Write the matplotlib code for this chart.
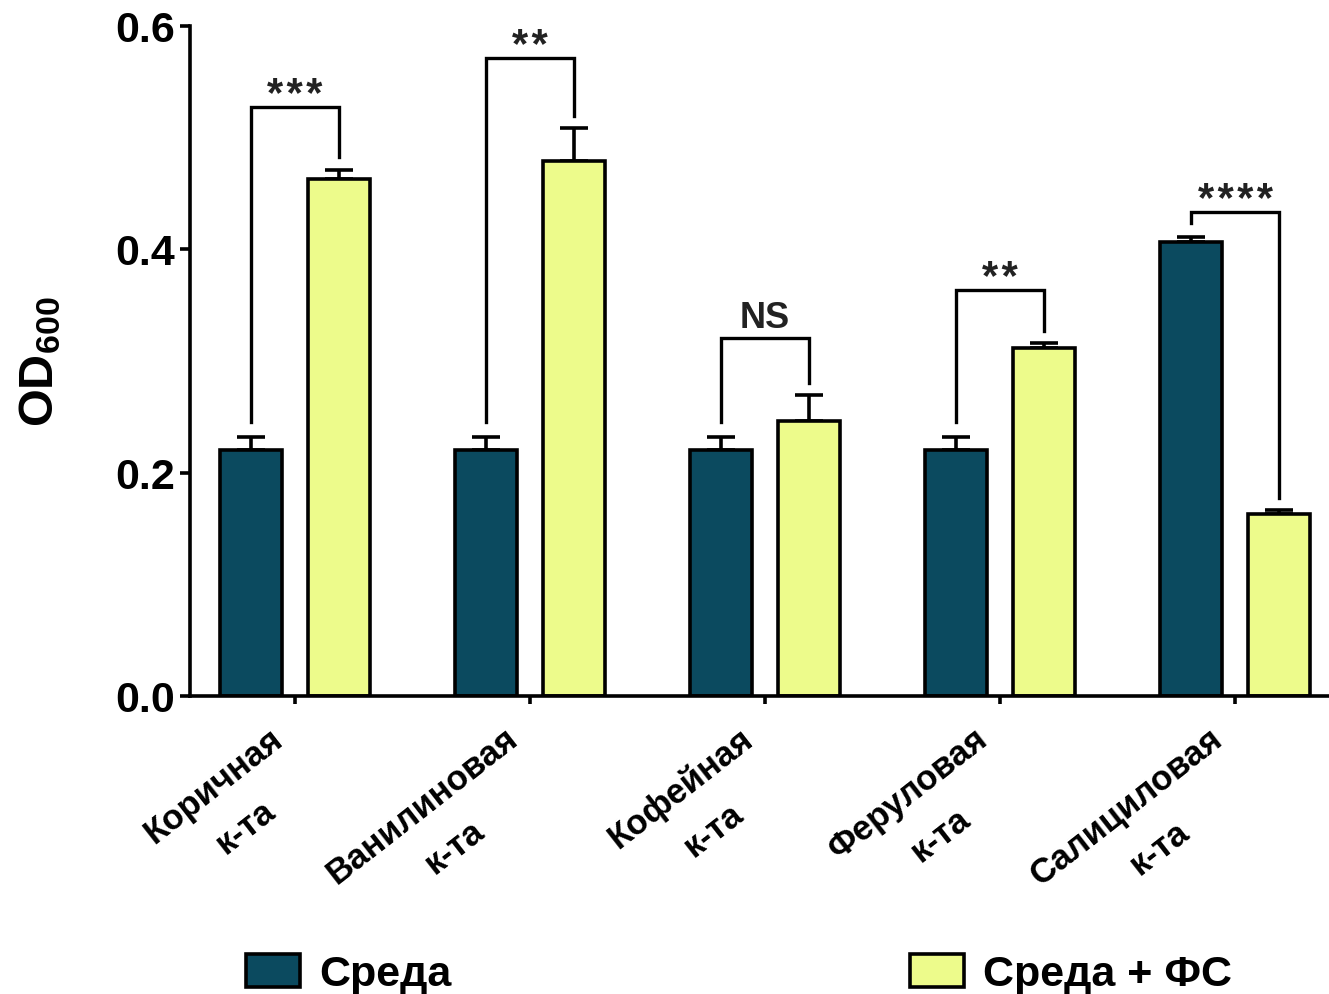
import matplotlib
matplotlib.use("Agg")
import matplotlib.pyplot as plt
from matplotlib.patches import Patch
import numpy as np

# --- data -------------------------------------------------------------
categories = ["Коричная\nк-та", "Ванилиновая\nк-та", "Кофейная\nк-та",
              "Феруловая\nк-та", "Салициловая\nк-та"]
medium = [0.220, 0.220, 0.220, 0.220, 0.4065]
medium_err = [0.012, 0.012, 0.012, 0.012, 0.004]
medium_fs = [0.463, 0.479, 0.246, 0.311, 0.163]
medium_fs_err = [0.008, 0.029, 0.023, 0.005, 0.003]
significance = ["***", "**", "NS", "**", "****"]
bracket_level = [0.527, 0.571, 0.320, 0.363, 0.433]
series_names = ["Среда", "Среда + ФС"]
y_ticks = [0.0, 0.2, 0.4, 0.6]

# --- style ------------------------------------------------------------
plt.rcParams["font.family"] = ["Liberation Sans", "DejaVu Sans"]
plt.rcParams["font.weight"] = "bold"
plt.rcParams["mathtext.fontset"] = "custom"
plt.rcParams["mathtext.rm"] = "Liberation Sans:bold"
plt.rcParams["mathtext.bf"] = "Liberation Sans:bold"

DARK = "#0b4a5f"
LIGHT = "#edfb8b"
LW = 2.6

fig = plt.figure(figsize=(13.29, 9.95), dpi=100)
ax = fig.add_axes([190 / 1329, 1 - 697 / 995, 1139 / 1329, (697 - 26.5) / 995])

x = np.arange(len(categories))
off = 0.187
width = 0.264

ax.bar(x - off, medium, width, color=DARK, edgecolor="black", linewidth=LW, zorder=2)
ax.bar(x + off, medium_fs, width, color=LIGHT, edgecolor="black", linewidth=LW, zorder=2)
ax.errorbar(x - off, medium, yerr=[np.zeros(len(x)), medium_err], fmt="none",
            ecolor="black", elinewidth=LW, capsize=10, capthick=LW, zorder=1)
ax.errorbar(x + off, medium_fs, yerr=[np.zeros(len(x)), medium_fs_err], fmt="none",
            ecolor="black", elinewidth=LW, capsize=10, capthick=LW, zorder=1)

# significance brackets
for i in range(len(x)):
    left_end = medium[i] + medium_err[i] + 0.013
    right_end = medium_fs[i] + medium_fs_err[i] + 0.011
    top = bracket_level[i]
    xl, xr = x[i] - off, x[i] + off
    ax.plot([xl, xl, xr, xr], [left_end, top, top, right_end],
            color="black", linewidth=2.4, solid_joinstyle="miter", zorder=3)
    is_ns = significance[i] == "NS"
    label = significance[i] if is_ns else "\u200a".join(significance[i])
    ax.annotate(label, xy=((xl + xr) / 2, top), xytext=(0, 8 if is_ns else 1),
                textcoords="offset points", ha="center", va="baseline",
                fontsize=26 if is_ns else 30,
                fontweight="bold", color="#222222")

ax.set_xlim(-0.447, 4.40)
ax.set_ylim(0, 0.6)
ax.set_yticks(y_ticks)
ax.set_yticklabels([f"{v:.1f}" for v in y_ticks], fontsize=31, fontweight="bold")
ax.set_xticks(x)
ax.set_xticklabels([""] * len(x))

# rotated two-line category labels, hung below each tick
for xi, cat in zip(x, categories):
    ax.annotate(cat, xy=(xi, 0), xycoords=("data", "axes fraction"),
                xytext=(-19, -18), textcoords="offset points",
                fontsize=25, fontweight="bold", rotation=38,
                ha="right", va="top", rotation_mode="anchor",
                multialignment="center", linespacing=1.75)

for s in ["top", "right"]:
    ax.spines[s].set_visible(False)
for s in ["left", "bottom"]:
    ax.spines[s].set_linewidth(LW)
ax.tick_params(axis="y", length=7, width=LW, pad=4)
ax.tick_params(axis="x", length=6, width=LW)

ax.set_ylabel(r"$\mathbf{OD_{600}}$", fontsize=35, labelpad=37)

handles = [Patch(facecolor=DARK, edgecolor="black", linewidth=LW),
           Patch(facecolor=LIGHT, edgecolor="black", linewidth=LW)]
fig.legend(handles, series_names, loc="lower left", bbox_to_anchor=(246 / 1329, 0.0),
           ncol=2, frameon=False, fontsize=31, handlelength=1.25, handleheight=0.8,
           handletextpad=0.45, columnspacing=10.65, borderpad=0.0, borderaxespad=0.0)

fig.savefig("out.png", dpi=100)
